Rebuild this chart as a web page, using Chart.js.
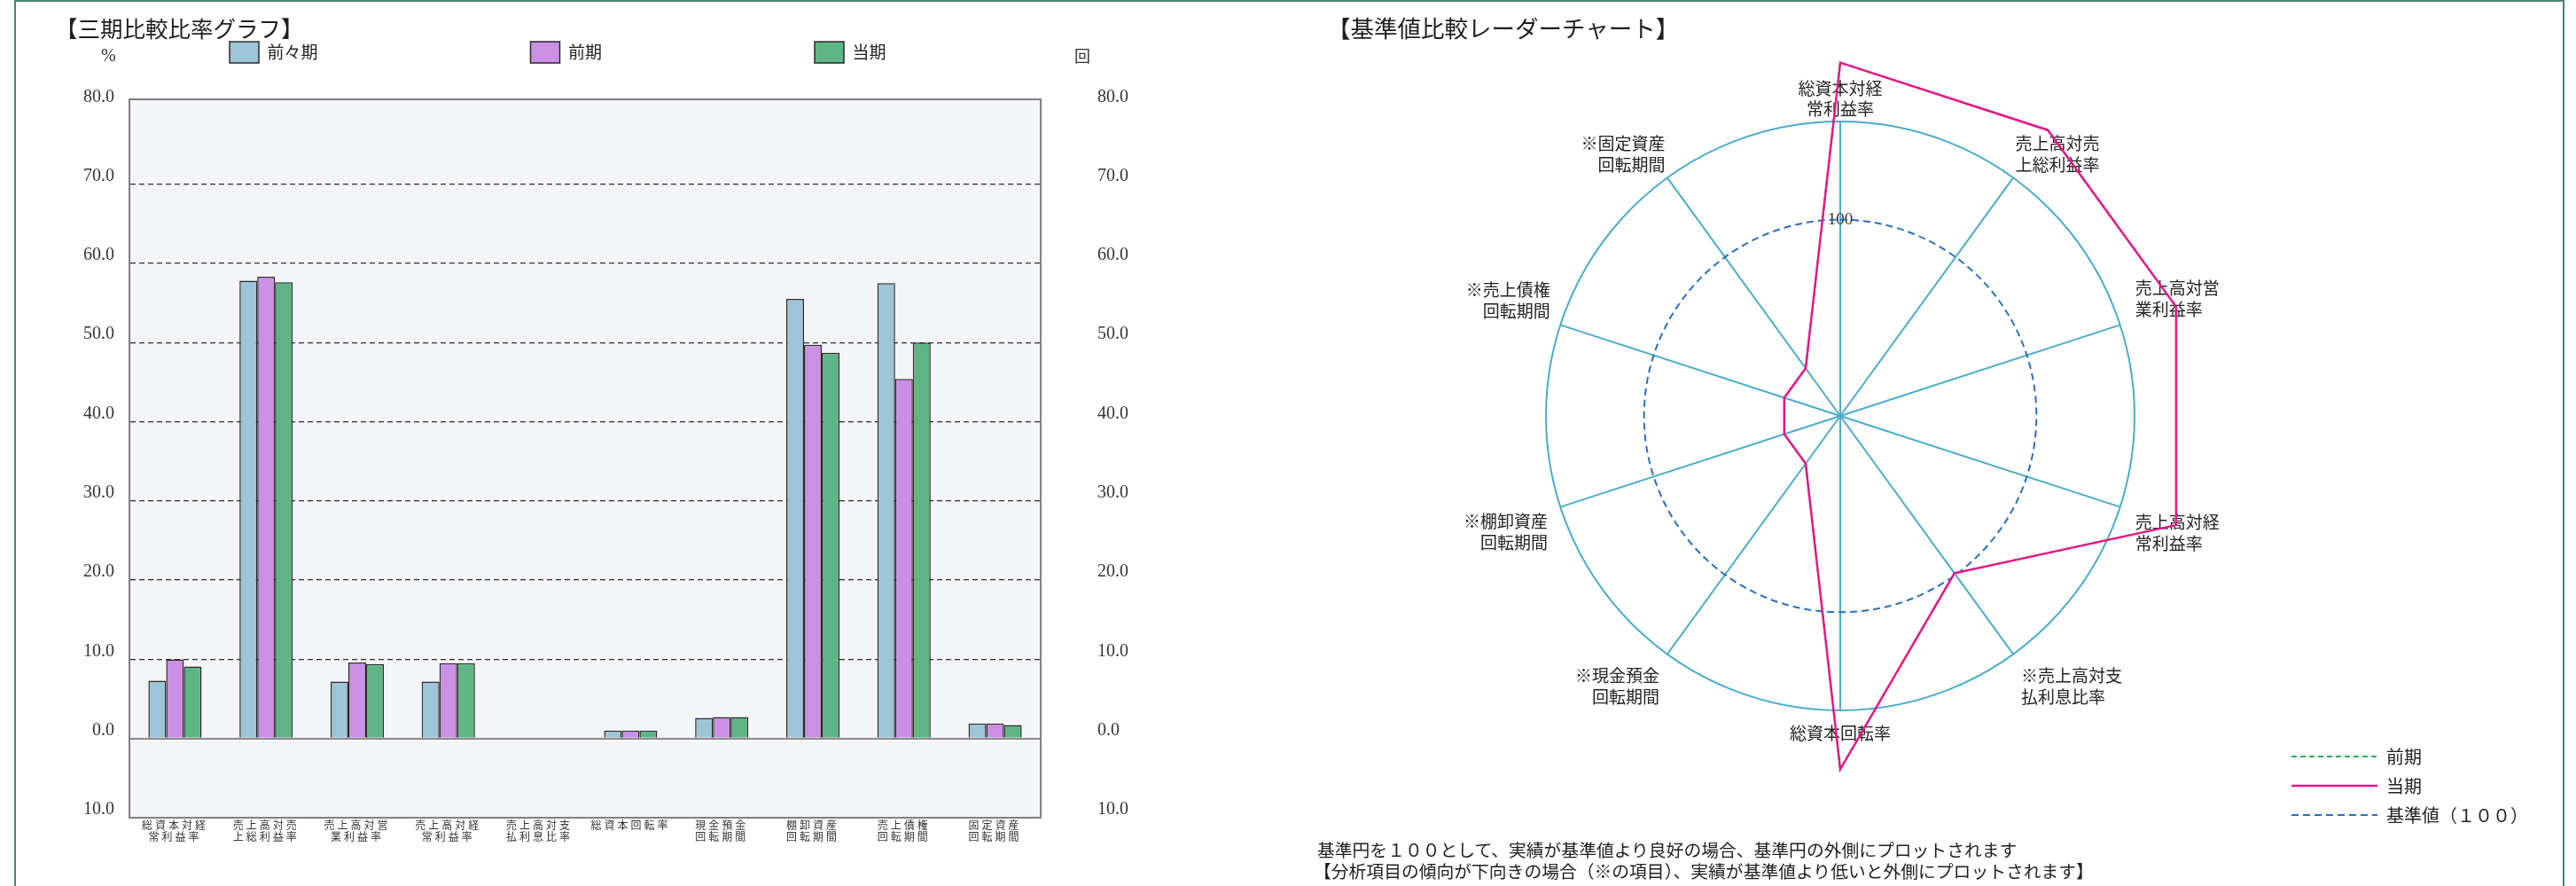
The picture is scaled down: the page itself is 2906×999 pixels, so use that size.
<!DOCTYPE html>
<html lang="ja">
<head>
<meta charset="utf-8">
<title>三期比較比率グラフ / 基準値比較レーダーチャート</title>
<script src="https://cdn.jsdelivr.net/npm/chart.js@4.4.1/dist/chart.umd.min.js"></script>
<style>
html,body{margin:0;padding:0;background:#ffffff;}
body{width:2906px;height:999px;position:relative;overflow:hidden;font-family:"Noto Sans CJK JP",sans-serif;color:#1e1e1e;}
.frame{position:absolute;left:16px;top:0;width:2877px;height:1100px;border:2px solid #4d8079;box-sizing:border-box;}
.txt{position:absolute;white-space:nowrap;line-height:1;}
#barWrap{position:absolute;left:0;top:0;width:1450px;height:999px;}
#radarWrap{position:absolute;left:1450px;top:0;width:1456px;height:999px;}
canvas{display:block;}
</style>
</head>
<body>
<div class="frame"></div>
<div id="barWrap"><canvas id="bar" width="1450" height="999" style="width:1450px;height:999px;"></canvas></div>
<div id="radarWrap"><canvas id="radar" width="1456" height="999" style="width:1456px;height:999px;"></canvas></div>

<div class="txt" style="left:62px;top:18px;font-size:25.5px;">【三期比較比率グラフ】</div>
<div class="txt" style="left:114px;top:52px;font-size:20px;font-family:'Liberation Serif',serif;color:#333;">%</div>
<div class="txt" style="left:1212px;top:53px;font-size:18px;color:#333;">回</div>

<div class="txt" style="left:1497px;top:18px;font-size:26.5px;">【基準値比較レーダーチャート】</div>
<div class="txt" style="left:1486px;top:948px;font-size:19.8px;">基準円を１００として、実績が基準値より良好の場合、基準円の外側にプロットされます</div>
<div class="txt" style="left:1482px;top:972px;font-size:19.8px;">【分析項目の傾向が下向きの場合（※の項目）、実績が基準値より低いと外側にプロットされます】</div>

<script>
// ---------------- data: 三期比較比率グラフ ----------------
const barCategories = [
  ['総資本対経', '常利益率'],
  ['売上高対売', '上総利益率'],
  ['売上高対営', '業利益率'],
  ['売上高対経', '常利益率'],
  ['売上高対支', '払利息比率'],
  '総資本回転率',
  ['現金預金', '回転期間'],
  ['棚卸資産', '回転期間'],
  ['売上債権', '回転期間'],
  ['固定資産', '回転期間']
];
const barSeriesNames = ['前々期', '前期', '当期'];
const valuesZenzenki = [7.3, 57.8, 7.2, 7.2, 0.1, 1.0, 2.6, 55.5, 57.5, 1.9];
const valuesZenki    = [10.0, 58.3, 9.6, 9.5, 0.1, 1.0, 2.7, 49.7, 45.4, 1.9];
const valuesTouki    = [9.1, 57.6, 9.4, 9.5, 0.1, 1.0, 2.7, 48.7, 50.0, 1.7];
const barAxisMin = -10;
const barAxisMax = 80;
const barAxisStep = 10;

// ---------------- data: 基準値比較レーダーチャート ----------------
const radarLabels = [
  ['総資本対経', '常利益率'],
  ['売上高対売', '上総利益率'],
  ['売上高対営', '業利益率'],
  ['売上高対経', '常利益率'],
  ['※売上高対支', '払利息比率'],
  '総資本回転率',
  ['※現金預金', '回転期間'],
  ['※棚卸資産', '回転期間'],
  ['※売上債権', '回転期間'],
  ['※固定資産', '回転期間']
];
const radarSeriesNames = ['前期', '当期', '基準値（１００）'];
const radarZenki = [180, 180, 180, 180, 99, 180, 30, 30, 30, 30];
const radarTouki = [180, 180, 180, 180, 99, 180, 30, 30, 30, 30];
const radarBase  = [100, 100, 100, 100, 100, 100, 100, 100, 100, 100];
const radarMin = 0;
const radarMax = 150;
const radarStep = 50;
const radarTickLabels = [100];

// ---------------- styles ----------------
Chart.defaults.font.family = '"Noto Sans CJK JP", sans-serif';
Chart.defaults.color = '#333';
const serif = '"Liberation Serif", serif';
const barColors = ['#9ec4d8', '#cb8fe4', '#5eb684'];
const radarPadding = [-9.5, -7.5, 6.5, 6.5, 3.5, 2.5, 3.5, 3.5, 0.5, -7.5];

const plotBg = {
  id: 'plotBg',
  beforeDraw(chart, args, opts) {
    const a = chart.chartArea;
    const ctx = chart.ctx;
    ctx.save();
    ctx.fillStyle = opts.color || '#f4f5f9';
    ctx.fillRect(a.left, a.top, a.right - a.left, a.bottom - a.top);
    ctx.restore();
  }
};
const xLabelSpacing = {
  id: 'xLabelSpacing',
  afterDatasetsDraw(chart) { chart.ctx.letterSpacing = '3px'; },
  afterDraw(chart) { chart.ctx.letterSpacing = '0px'; }
};

function barGridColor(c) {
  if (!c.tick) return 'rgba(0,0,0,0)';
  const v = c.tick.value;
  if (v === 0) return '#8a8a8a';
  if (v <= barAxisMin || v >= barAxisMax) return 'rgba(0,0,0,0)';
  return '#2e2e2e';
}

new Chart(document.getElementById('bar'), {
  type: 'bar',
  data: {
    labels: barCategories,
    datasets: [valuesZenzenki, valuesZenki, valuesTouki].map((vals, i) => ({
      label: barSeriesNames[i],
      data: vals,
      backgroundColor: barColors[i],
      borderColor: '#2a2a2a',
      borderWidth: 1.5
    }))
  },
  options: {
    responsive: false,
    animation: false,
    events: [],
    datasets: { bar: { categoryPercentage: 0.584, barPercentage: 1.0 } },
    layout: { padding: { left: 19, top: -193, right: 0, bottom: 0 } },
    plugins: {
      legend: {
        position: 'top',
        align: 'start',
        labels: { boxWidth: 33, boxHeight: 24, padding: 240, font: { size: 19 }, color: '#222' }
      },
      tooltip: { enabled: false },
      plotBg: { color: '#f4f5f9' }
    },
    scales: {
      x: {
        position: 'bottom',
        offset: true,
        grid: { display: false, drawTicks: false },
        border: { display: true, color: '#808080', width: 2 },
        ticks: { autoSkip: false, maxRotation: 0, minRotation: 0, padding: 2, z: 1,
                 font: { size: 12, lineHeight: 1.1 }, color: '#333' },
        afterFit: s => { s.height = 77; }
      },
      xTop: {
        type: 'category',
        position: 'top',
        offset: true,
        grid: { display: false, drawTicks: false },
        ticks: { display: false },
        border: { display: true, color: '#808080', width: 2 },
        afterFit: s => { s.height = 31; }
      },
      y: {
        position: 'left',
        min: barAxisMin,
        max: barAxisMax + 0.7,
        ticks: {
          stepSize: barAxisStep, includeBounds: false,
          callback: v => Math.abs(v).toFixed(1),
          labelOffset: -9, padding: 17,
          font: { family: serif, size: 20 }, color: '#333'
        },
        grid: {
          drawTicks: false,
          color: barGridColor,
          lineWidth: c => (c.tick && c.tick.value === 0) ? 2 : 1.3
        },
        border: {
          display: true, color: '#808080', width: 2,
          dash: c => (c.tick && c.tick.value > barAxisMin && c.tick.value < barAxisMax && c.tick.value !== 0) ? [6, 4] : []
        },
        afterFit: s => { s.width = 127; }
      },
      y2: {
        position: 'right',
        min: barAxisMin,
        max: barAxisMax + 0.7,
        ticks: {
          stepSize: barAxisStep, includeBounds: false,
          callback: v => Math.abs(v).toFixed(1),
          labelOffset: -9, padding: 64,
          font: { family: serif, size: 20 }, color: '#333'
        },
        grid: { display: false, drawTicks: false },
        border: { display: true, color: '#808080', width: 2 },
        afterFit: s => { s.width = 276; }
      }
    }
  },
  plugins: [plotBg, xLabelSpacing]
});

new Chart(document.getElementById('radar'), {
  type: 'radar',
  data: {
    labels: radarLabels,
    datasets: [
      { label: radarSeriesNames[0], data: radarZenki, borderColor: '#2cae5c', borderDash: [6, 4], borderWidth: 2, order: 1 },
      { label: radarSeriesNames[1], data: radarTouki, borderColor: '#e6178b', borderWidth: 2.5, order: 0 },
      { label: radarSeriesNames[2], data: radarBase, borderColor: '#2a6ebd', borderDash: [8, 5], borderWidth: 2, tension: 0.359, order: 2 }
    ]
  },
  options: {
    responsive: false,
    animation: false,
    events: [],
    layout: { padding: { left: 0, top: 0, right: 44, bottom: 57 } },
    elements: { point: { radius: 0, hoverRadius: 0 } },
    datasets: { radar: { backgroundColor: 'rgba(0,0,0,0)', fill: false, clip: false } },
    plugins: {
      legend: {
        position: 'right',
        align: 'end',
        labels: {
          usePointStyle: true,
          pointStyle: 'line',
          pointStyleWidth: 97,
          padding: 13,
          font: { size: 20 },
          color: '#222',
          sort: (a, b) => a.datasetIndex - b.datasetIndex,
          generateLabels: chart => Chart.defaults.plugins.legend.labels.generateLabels(chart).map(item => {
            const ds = chart.data.datasets[item.datasetIndex];
            item.lineDash = ds.borderDash || [];
            item.lineWidth = ds.borderWidth;
            item.strokeStyle = ds.borderColor;
            item.fillStyle = 'rgba(0,0,0,0)';
            return item;
          })
        }
      },
      tooltip: { enabled: false }
    },
    scales: {
      r: {
        min: radarMin,
        max: radarMax,
        ticks: {
          stepSize: radarStep,
          showLabelBackdrop: false,
          callback: v => radarTickLabels.includes(v) ? String(v) : '',
          font: { family: serif, size: 19 },
          color: '#333'
        },
        grid: {
          circular: true,
          color: c => (c.tick && c.tick.value === radarMax) ? '#4aacc8' : 'rgba(0,0,0,0)',
          lineWidth: 2
        },
        angleLines: { color: '#4aacc8', lineWidth: 2 },
        pointLabels: {
          font: { size: 19, lineHeight: 1.25 },
          color: '#222',
          padding: c => radarPadding[c.index]
        },
        afterSetDimensions: s => { s.xCenter = 626; s.yCenter = 469; s.drawingArea = 332; }
      }
    }
  }
});
</script>
</body>
</html>
